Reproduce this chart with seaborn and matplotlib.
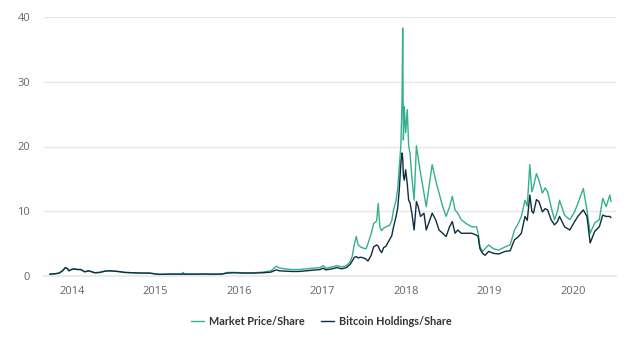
import matplotlib
matplotlib.use("Agg")
import matplotlib.pyplot as plt
import pandas as pd
import seaborn as sns

dates = [
    "2013-09-25", "2013-10-20", "2013-11-05", "2013-11-20", "2013-12-03", "2013-12-12",
    "2013-12-18", "2013-12-28", "2014-01-10", "2014-01-25", "2014-02-08", "2014-02-25",
    "2014-03-15", "2014-04-10", "2014-05-01", "2014-05-25", "2014-06-15", "2014-07-20",
    "2014-08-20", "2014-09-25", "2014-11-01", "2014-12-05", "2015-01-15", "2015-02-15",
    "2015-03-15", "2015-04-25", "2015-05-01", "2015-05-08", "2015-06-15", "2015-08-01",
    "2015-09-15", "2015-10-20", "2015-11-10", "2015-12-15", "2016-01-20", "2016-03-01",
    "2016-04-15", "2016-05-20", "2016-06-12", "2016-06-25", "2016-07-20", "2016-08-20",
    "2016-09-20", "2016-10-20", "2016-11-20", "2016-12-20", "2017-01-03", "2017-01-15",
    "2017-02-10", "2017-03-05", "2017-03-25", "2017-04-15", "2017-05-01", "2017-05-10",
    "2017-05-20", "2017-05-28", "2017-06-05", "2017-06-15", "2017-06-28", "2017-07-10",
    "2017-07-18", "2017-08-01", "2017-08-12", "2017-08-25", "2017-09-01", "2017-09-08",
    "2017-09-16", "2017-09-25", "2017-10-05", "2017-10-20", "2017-10-30", "2017-11-07",
    "2017-11-18", "2017-11-25", "2017-12-02", "2017-12-09", "2017-12-14", "2017-12-17",
    "2017-12-20", "2017-12-24", "2017-12-30", "2018-01-06", "2018-01-12", "2018-01-18",
    "2018-01-26", "2018-02-05", "2018-02-15", "2018-02-22", "2018-03-05", "2018-03-20",
    "2018-03-30", "2018-04-15", "2018-04-25", "2018-05-10", "2018-05-25", "2018-06-10",
    "2018-06-25", "2018-07-10", "2018-07-22", "2018-08-03", "2018-08-15", "2018-08-30",
    "2018-09-20", "2018-10-15", "2018-11-05", "2018-11-12", "2018-11-20", "2018-12-01",
    "2018-12-12", "2018-12-28", "2019-01-18", "2019-02-10", "2019-03-10", "2019-04-01",
    "2019-04-20", "2019-05-05", "2019-05-20", "2019-06-05", "2019-06-15", "2019-06-26",
    "2019-07-05", "2019-07-12", "2019-07-25", "2019-08-05", "2019-08-20", "2019-09-01",
    "2019-09-12", "2019-09-27", "2019-10-12", "2019-10-25", "2019-11-03", "2019-11-25",
    "2019-12-18", "2020-01-08", "2020-01-22", "2020-02-15", "2020-03-02", "2020-03-16",
    "2020-04-05", "2020-04-25", "2020-05-10", "2020-05-25", "2020-06-10", "2020-06-15",
]

market_price = [
    0.28, 0.35, 0.45, 0.8, 1.3, 1.1,
    0.8, 1.0, 1.1, 1.0, 1.0, 0.65,
    0.8, 0.5, 0.55, 0.75, 0.8, 0.7,
    0.55, 0.5, 0.45, 0.45, 0.25, 0.28,
    0.3, 0.3, 0.55, 0.3, 0.3, 0.3,
    0.28, 0.32, 0.55, 0.55, 0.5, 0.5,
    0.6, 0.8, 1.5, 1.25, 1.1, 1.0,
    1.0, 1.1, 1.2, 1.3, 1.6, 1.2,
    1.4, 1.6, 1.4, 1.6, 2.2, 3.0,
    5.0, 6.1, 4.8, 4.5, 4.3, 4.2,
    5.0, 6.5, 8.1, 8.5, 11.2, 7.6,
    7.0, 7.4, 7.6, 7.8, 8.5, 10.2,
    11.7, 13.5, 16.9, 20.1, 27.0, 38.3,
    21.0, 26.2, 22.1, 25.7, 20.1, 19.0,
    15.3, 11.7, 20.1, 18.4, 15.9, 12.8,
    10.7, 14.8, 17.2, 14.8, 12.8, 10.7,
    9.2, 10.7, 12.3, 10.2, 9.7, 8.7,
    8.1, 7.6, 7.6, 6.6, 4.5, 3.8,
    4.2, 4.8, 4.2, 4.0, 4.5, 4.8,
    7.1, 8.0, 9.2, 11.7, 10.8, 17.2,
    13.0, 13.8, 15.8, 14.8, 12.8, 13.6,
    13.0, 10.7, 8.7, 10.0, 11.7, 9.4,
    8.7, 9.9, 11.2, 13.5, 10.2, 6.6,
    8.2, 8.7, 12.0, 10.7, 12.5, 11.5,
]

bitcoin_holdings = [
    0.28, 0.35, 0.45, 0.8, 1.3, 1.1,
    0.8, 1.0, 1.1, 1.0, 1.0, 0.65,
    0.8, 0.5, 0.55, 0.75, 0.8, 0.7,
    0.55, 0.5, 0.45, 0.45, 0.25, 0.28,
    0.3, 0.28, 0.28, 0.28, 0.28, 0.3,
    0.28, 0.3, 0.45, 0.5, 0.45, 0.45,
    0.5, 0.6, 0.95, 0.8, 0.75, 0.7,
    0.7, 0.8, 0.9, 1.0, 1.2, 0.95,
    1.1, 1.3, 1.1, 1.3, 1.8, 2.3,
    2.9, 3.0, 2.8, 2.9, 2.8, 2.6,
    2.3, 3.2, 4.5, 4.8, 4.6, 4.0,
    3.6, 4.4, 4.6, 5.6, 6.2, 7.6,
    9.2, 10.5, 13.3, 17.4, 19.0, 18.2,
    15.5, 14.8, 16.4, 14.2, 11.7, 11.3,
    9.7, 7.1, 11.5, 10.8, 9.2, 9.7,
    7.1, 8.7, 9.7, 8.7, 7.1, 6.6,
    6.1, 7.6, 8.4, 6.6, 7.1, 6.6,
    6.6, 6.6, 6.3, 6.1, 4.2, 3.5,
    3.2, 3.8, 3.5, 3.4, 3.8, 3.9,
    5.6, 6.0, 6.6, 9.2, 8.6, 12.5,
    10.0, 9.7, 11.8, 11.5, 9.9, 10.4,
    10.2, 8.7, 7.9, 8.4, 9.2, 7.6,
    7.1, 8.4, 9.2, 10.2, 9.2, 5.1,
    6.9, 7.6, 9.4, 9.2, 9.2, 9.0,
]

series_names = ["Market Price/Share", "Bitcoin Holdings/Share"]
series_colors = ["#34b08f", "#0f2d40"]
year_ticks = ["2014", "2015", "2016", "2017", "2018", "2019", "2020"]
value_ticks = [0, 10, 20, 30, 40]

wide = pd.DataFrame({
    "date": pd.to_datetime(dates),
    series_names[0]: market_price,
    series_names[1]: bitcoin_holdings,
})
long_df = wide.melt(id_vars="date", var_name="series", value_name="value")

sns.set_theme(style="white")
plt.rcParams["font.family"] = ["Open Sans", "DejaVu Sans"]

fig = plt.figure(figsize=(6.4, 3.37), dpi=100)
ax = fig.add_axes([44 / 640, 1 - 276 / 337, 572 / 640, 259 / 337])

sns.lineplot(
    data=long_df, x="date", y="value", hue="series",
    hue_order=series_names, palette=series_colors,
    linewidth=1.0, ax=ax, legend=True,
)

ax.set_xlim(pd.Timestamp("2013-08-31"), pd.Timestamp("2020-07-07"))
ax.set_ylim(0, 40)
ax.set_yticks(value_ticks)
ax.set_yticklabels([str(v) for v in value_ticks])
ax.set_xticks([pd.Timestamp(f"{y}-01-01") for y in year_ticks])
ax.set_xticklabels(year_ticks)
ax.set_xlabel("")
ax.set_ylabel("")

for s in ["top", "right", "left"]:
    ax.spines[s].set_visible(False)
ax.spines["bottom"].set_color("#e6e6e6")
ax.spines["bottom"].set_linewidth(1.2)
ax.yaxis.grid(True, color="#e8e8e8", linewidth=1.0)
ax.set_axisbelow(True)
ax.tick_params(axis="y", length=0, labelsize=8, labelcolor="#666666", pad=10)
ax.tick_params(axis="x", length=4, color="#e6e6e6", labelsize=8, labelcolor="#666666", pad=3)

handles, labels = ax.get_legend_handles_labels()
leg = ax.legend(
    handles, labels, loc="center", bbox_to_anchor=(0.485, -0.174),
    ncol=2, frameon=False, handlelength=1.2, handletextpad=0.4, columnspacing=1.55,
    prop={"family": ["Lato", "DejaVu Sans"], "weight": "bold", "size": 7.8},
)
for t in leg.get_texts():
    t.set_color("#333333")

fig.savefig("out.png", dpi=100, facecolor="white")
